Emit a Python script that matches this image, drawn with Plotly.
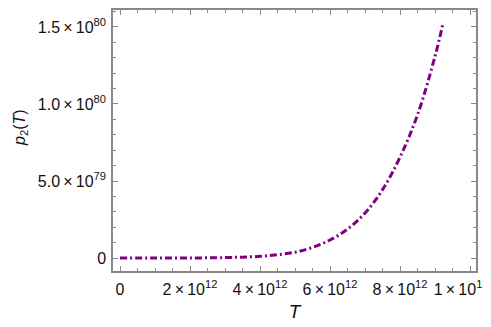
import plotly.graph_objects as go

# valores (T em unidades de 1e12, p2 em unidades de 1e80)
t_vals = [0, 1, 2, 3, 3.5, 4, 4.5, 5, 5.5, 6, 6.5, 7, 7.5, 8, 8.5, 9, 9.23]
p_vals = [0, 0, 0.0005, 0.003, 0.006, 0.011, 0.022, 0.038, 0.069, 0.117, 0.188, 0.292, 0.444, 0.655, 0.93, 1.31, 1.526]

x_ticks = [0, 2e12, 4e12, 6e12, 8e12, 1e13]
x_text = ['0', '2\u2009×\u200910<sup>12</sup>', '4\u2009×\u200910<sup>12</sup>', '6\u2009×\u200910<sup>12</sup>',
          '8\u2009×\u200910<sup>12</sup>',
          '1\u2009×\u200910<sup>13</sup><span style="color:rgba(0,0,0,0)">00</span>']
y_ticks = [0, 5e79, 1e80, 1.5e80]
y_text = ['0', '5.0\u2009×\u200910<sup>79</sup>', '1.0\u2009×\u200910<sup>80</sup>', '1.5\u2009×\u200910<sup>80</sup>']

T = [t * 1e12 for t in t_vals]
P = [p * 1e80 for p in p_vals]

fig = go.Figure()
fig.add_trace(go.Scatter(x=T, y=P, mode='lines', line_shape='spline',
                         line=dict(color='#800080', width=3, dash='7px,3px,2px,3px')))

frame = dict(showline=True, linecolor='#888888', linewidth=1.5, mirror='allticks',
             ticks='inside', tickcolor='#888888', ticklen=5, tickwidth=1.2, automargin=False,
             showgrid=False, zeroline=False, tickmode='array', ticklabeloverflow='allow')

fig.update_xaxes(**frame, range=[-0.2e12, 10.17e12], tickvals=x_ticks, ticktext=x_text,
                 ticklabelstandoff=3, tickangle=0,
                 minor=dict(dtick=0.5e12, tick0=0, ticks='inside', ticklen=3, tickcolor='#888888', showgrid=False),
                 title=dict(text='<i>T</i>', standoff=8))
fig.update_yaxes(**frame, range=[-0.084e80, 1.61e80], tickvals=y_ticks, ticktext=y_text,
                 ticklabelstandoff=2,
                 minor=dict(dtick=1e79, tick0=0, ticks='inside', ticklen=3, tickcolor='#888888', showgrid=False))

# titulo do eixo y como anotacao para ficar bem encostado na borda
fig.add_annotation(text='<i>p</i><sub>2</sub>(<i>T</i>)', xref='paper', yref='paper',
                   x=-0.255, y=0.55, xanchor='center', yanchor='middle',
                   textangle=-90, showarrow=False, font=dict(size=16))

fig.update_layout(width=491, height=327, showlegend=False,
                  margin=dict(l=105, r=23, t=2, b=64, autoexpand=False),
                  paper_bgcolor='white', plot_bgcolor='white',
                  font=dict(family='Liberation Sans, Arial', size=16, color='#111111'))

fig.write_html('out.html')
